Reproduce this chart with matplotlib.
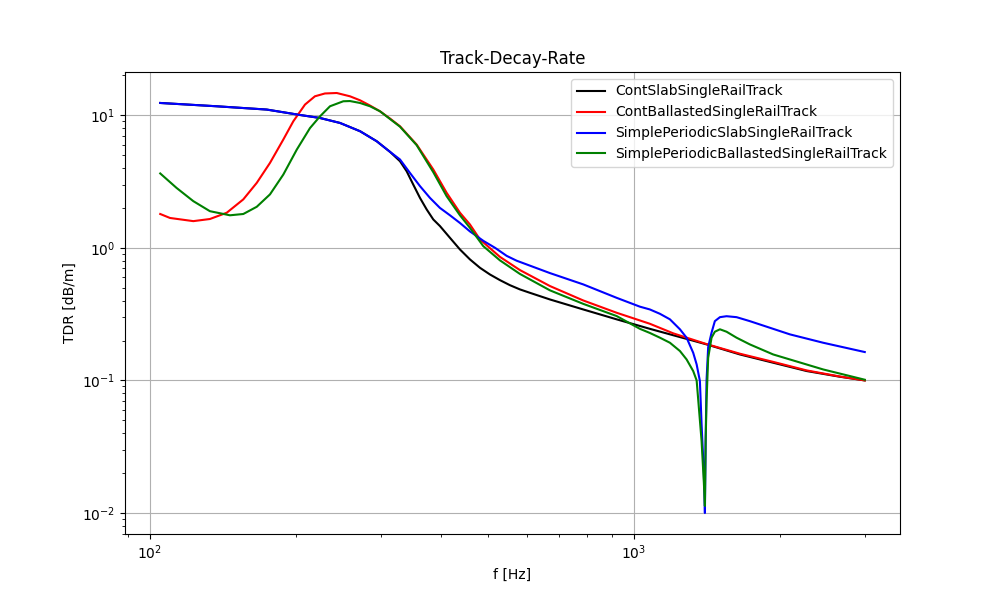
import matplotlib
matplotlib.use("Agg")
import matplotlib.pyplot as plt

# values (f in Hz, TDR in dB/m)
f_slab = [105, 137.3, 174.3, 204.2, 224.5, 247.0, 271.7, 294.1, 313.3, 328.6,
          339.2, 350.0, 361.4, 373.1, 385.0, 397.4, 416.8, 437.1, 458.4, 480.8,
          504.0, 528.6, 554.3, 581.3, 609.7, 670.7, 785.8, 920.9, 1079, 1413,
          1656, 1940, 2275, 2665, 3000]
tdr_slab = [12.38, 11.69, 11.04, 10.05, 9.54, 8.75, 7.58, 6.37, 5.3, 4.5,
            3.78, 3.0, 2.38, 1.947, 1.637, 1.46, 1.19, 0.972, 0.818, 0.707,
            0.630, 0.571, 0.523, 0.486, 0.458, 0.408, 0.343, 0.289, 0.245, 0.187,
            0.157, 0.136, 0.1177, 0.1066, 0.100]

f_ballast = [105, 110.0, 122.9, 133.0, 144.1, 155.9, 166.2, 177.0, 188.6, 197.8,
             209.1, 219.2, 229.9, 243.2, 259.0, 271.7, 284.9, 298.7, 313.3, 328.6,
             355.7, 385.0, 410.3, 437.1, 458.4, 480.8, 528.6, 581.3, 670.7, 785.8,
             920.9, 1079, 1206, 1413, 1656, 1940, 2275, 2665, 3000]
tdr_ballast = [1.80, 1.68, 1.59, 1.65, 1.84, 2.32, 3.09, 4.37, 6.56, 9.01,
               12.04, 13.9, 14.6, 14.72, 13.9, 12.97, 11.84, 10.72, 9.45, 8.26,
               6.01, 3.90, 2.60, 1.84, 1.50, 1.157, 0.855, 0.68, 0.515, 0.401,
               0.324, 0.2675, 0.2265, 0.188, 0.159, 0.138, 0.119, 0.107, 0.100]

f_per_slab = [105, 137.3, 174.3, 204.2, 224.5, 247.0, 271.7, 294.1, 313.3, 328.6,
              344.6, 361.4, 379.0, 397.4, 416.8, 437.1, 458.4, 488.4, 516.6, 545.9,
              572.3, 670.7, 785.8, 920.9, 1029, 1079, 1132, 1187, 1245, 1285,
              1326, 1348, 1369, 1380, 1395, 1402, 1407, 1413, 1424, 1447,
              1470, 1506, 1554, 1630, 1736, 2101, 2461, 3000]
tdr_per_slab = [12.38, 11.69, 11.04, 10.05, 9.54, 8.75, 7.58, 6.37, 5.3, 4.64,
                3.67, 2.92, 2.38, 2.00, 1.76, 1.54, 1.33, 1.13, 1.0, 0.87,
                0.80, 0.645, 0.530, 0.420, 0.36, 0.343, 0.318, 0.289, 0.243, 0.21,
                0.1617, 0.132, 0.099, 0.0467, 0.020, 0.0100, 0.035, 0.10, 0.178, 0.229,
                0.280, 0.300, 0.305, 0.300, 0.280, 0.2225, 0.1924, 0.1637]

f_per_ballast = [105, 113.5, 122.9, 133.0, 146.3, 155.9, 166.2, 177.0, 188.6, 201.1,
                 214.1, 224.5, 235.5, 250.9, 259.0, 271.7, 284.9, 298.7, 328.6, 355.7,
                 385.0, 410.3, 437.1, 458.4, 488.4, 528.6, 581.3, 670.7, 785.8, 920.9,
                 1029, 1079, 1132, 1187, 1245, 1285, 1326, 1348, 1380, 1395,
                 1402, 1407, 1413, 1424, 1447, 1470, 1506, 1554, 1630, 1736,
                 1940, 2461, 3000]
tdr_per_ballast = [3.64, 2.83, 2.25, 1.89, 1.76, 1.80, 2.04, 2.53, 3.57, 5.51,
                   8.0, 9.8, 11.69, 12.75, 12.8, 12.38, 11.69, 10.72, 8.2, 5.95,
                   3.72, 2.45, 1.76, 1.415, 1.03, 0.805, 0.636, 0.478, 0.378, 0.306,
                   0.245, 0.228, 0.21, 0.1924, 0.1666, 0.144, 0.1177, 0.100, 0.0349, 0.017,
                   0.0113, 0.035, 0.07, 0.148, 0.21, 0.233, 0.243, 0.233, 0.21, 0.187,
                   0.157, 0.121, 0.1012]

fig, ax = plt.subplots(figsize=(10, 6), dpi=100)

ax.loglog(f_slab, tdr_slab, color='k', label='ContSlabSingleRailTrack')
ax.loglog(f_ballast, tdr_ballast, color='r', label='ContBallastedSingleRailTrack')
ax.loglog(f_per_slab, tdr_per_slab, color='b', label='SimplePeriodicSlabSingleRailTrack')
ax.loglog(f_per_ballast, tdr_per_ballast, color='g', label='SimplePeriodicBallastedSingleRailTrack')

ax.set_title('Track-Decay-Rate')
ax.set_xlabel('f [Hz]')
ax.set_ylabel('TDR [dB/m]')
ax.grid(True)
ax.legend(loc='upper right')

plt.savefig('out.png')
